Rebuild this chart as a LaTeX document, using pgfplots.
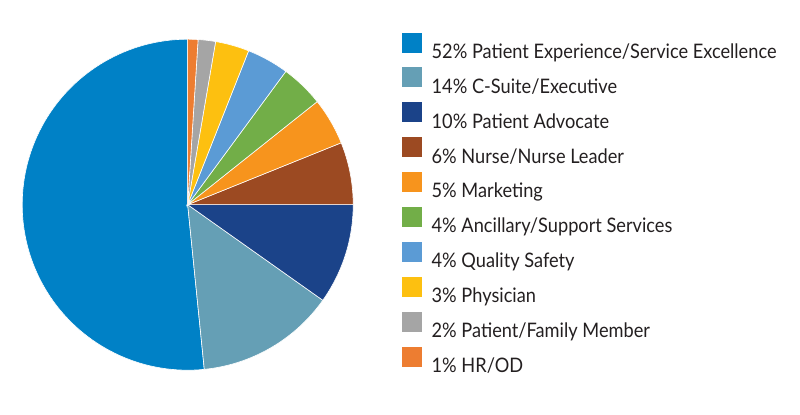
\documentclass[border=0pt]{standalone}
\usepackage{pgfplots}
\usepackage{pgfplotstable}
\pgfplotsset{compat=1.18}
\usepackage{fontspec}
\setmainfont{Lato}[FakeStretch=0.91]

\definecolor{sl0}{HTML}{0081C6}
\definecolor{sl1}{HTML}{659FB5}
\definecolor{sl2}{HTML}{1B4389}
\definecolor{sl3}{HTML}{9C4A22}
\definecolor{sl4}{HTML}{F7941D}
\definecolor{sl5}{HTML}{72AE48}
\definecolor{sl6}{HTML}{5B9BD5}
\definecolor{sl7}{HTML}{FDC010}
\definecolor{sl8}{HTML}{A5A5A5}
\definecolor{sl9}{HTML}{ED7D31}
\definecolor{txt}{HTML}{231F20}

% share of each group, in per cent, in legend order
\pgfplotstableread{
share
51.6
13.6
9.8
6.1
4.6
4.2
4.1
3.3
1.7
1.0
}\shares

\begin{document}
\begin{tikzpicture}
\begin{axis}[
    name=ax,
    width=165.5pt, height=165.5pt, scale only axis,
    xmin=-1, xmax=1, ymin=-1, ymax=1,
    hide axis, clip=false,
    legend entries={
        52\% Patient Experience/Service Excellence,
        14\% C-Suite/Executive,
        10\% Patient Advocate,
        6\% Nurse/Nurse Leader,
        5\% Marketing,
        4\% Ancillary/Support Services,
        4\% Quality Safety,
        3\% Physician,
        2\% Patient/Family Member,
        1\% HR/OD},
    legend cell align=left,
    legend style={draw=none, fill=none, at={(1.1465,1.02)}, anchor=north west,
        inner sep=0pt, outer sep=0pt, row sep=2.55pt,
        font=\fontsize{10}{12}\selectfont, text=txt,
        nodes={inner sep=0pt, text height=9.5pt, text depth=2pt},
        /tikz/every odd column/.append style={column sep=5pt}},
    legend image code/.code={\path[#1, draw=none] (0pt,-0.85pt) rectangle (10pt,9.15pt);},
]
\xdef\cum{90}
\pgfplotsforeachungrouped \i in {0,...,9}{
    \pgfplotstablegetelem{\i}{share}\of\shares
    \pgfmathsetmacro\tmpend{\cum+3.6*\pgfplotsretval}
    \edef\temp{\noexpand\addplot[fill=sl\i, draw=white, line width=0.3pt,
        domain=\cum:\tmpend, samples=100] ({cos(x)},{sin(x)}) -- (0,0) -- cycle;}
    \temp
    \xdef\cum{\tmpend}
}
\end{axis}
\pgfresetboundingbox
\path[shift={(ax.south west)}] (-11.1pt,-22.4pt) rectangle (388.9pt,185.1pt);
\end{tikzpicture}
\end{document}
